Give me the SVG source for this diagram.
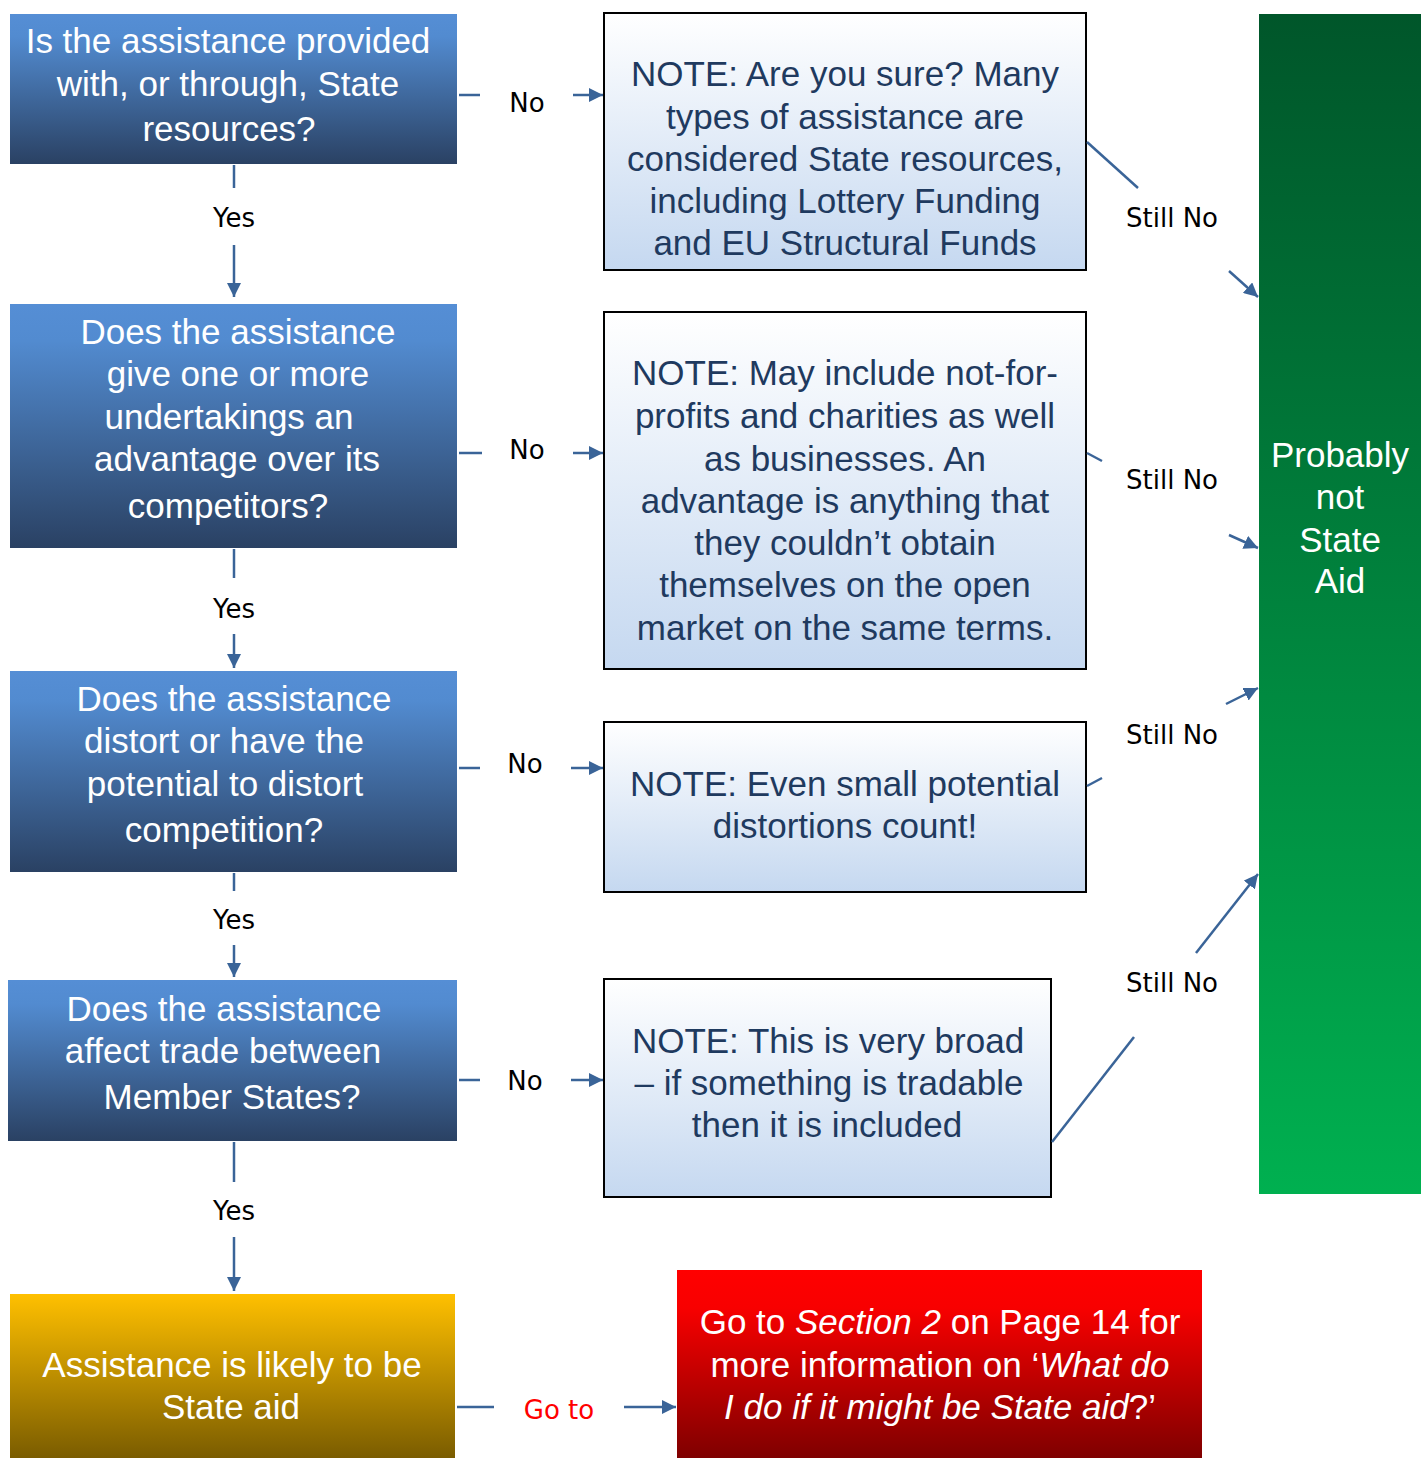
<svg xmlns="http://www.w3.org/2000/svg" width="1421" height="1458" viewBox="0 0 1421 1458">
<defs>
<linearGradient id="gBlue" x1="0" y1="0" x2="0" y2="1">
<stop offset="0" stop-color="#558ed5"/><stop offset="0.15" stop-color="#528bd0"/><stop offset="1" stop-color="#2a4163"/>
</linearGradient>
<linearGradient id="gNote" x1="0" y1="0" x2="0" y2="1">
<stop offset="0" stop-color="#ffffff"/><stop offset="1" stop-color="#c5d8f0"/>
</linearGradient>
<linearGradient id="gGreen" x1="0" y1="0" x2="0" y2="1">
<stop offset="0" stop-color="#00562a"/><stop offset="1" stop-color="#00b050"/>
</linearGradient>
<linearGradient id="gYellow" x1="0" y1="0" x2="0" y2="1">
<stop offset="0" stop-color="#ffc000"/><stop offset="1" stop-color="#7a5c00"/>
</linearGradient>
<linearGradient id="gRed" x1="0" y1="0" x2="0" y2="1">
<stop offset="0" stop-color="#ff0000"/><stop offset="0.2" stop-color="#f80000"/><stop offset="1" stop-color="#7f0000"/>
</linearGradient>
<marker id="arr" viewBox="0 0 14 14" refX="14" refY="7" markerWidth="14" markerHeight="14" markerUnits="userSpaceOnUse" orient="auto">
<path d="M0,0 L14,7 L0,14 z" fill="#3a6498"/>
</marker>
<style>
.q{font-family:"Liberation Sans",Arial,sans-serif;font-size:35px;fill:#ffffff;text-anchor:middle}
.n{font-family:"Liberation Sans",Arial,sans-serif;font-size:35px;fill:#1f3a5f;text-anchor:middle}
.lbl{font-family:"DejaVu Sans",Verdana,sans-serif;font-size:26px;fill:#000000;text-anchor:middle}
.red{fill:#ff0000}
.note{fill:url(#gNote);stroke:#000000;stroke-width:2}
.c{stroke:#3a6498;stroke-width:2.5;fill:none}
.a{stroke:#3a6498;stroke-width:2.5;fill:none;marker-end:url(#arr)}
</style>
</defs>
<rect width="1421" height="1458" fill="#ffffff"/>

<g id="q1">
<rect x="10" y="14" width="447" height="150" fill="url(#gBlue)"/>
<text class="q"><tspan x="228" y="53">Is the assistance provided</tspan><tspan x="228" y="96">with, or through, State</tspan><tspan x="229" y="141">resources?</tspan></text>
</g>
<g id="q2">
<rect x="10" y="304" width="447" height="244" fill="url(#gBlue)"/>
<text class="q"><tspan x="238" y="344">Does the assistance</tspan><tspan x="238" y="386">give one or more</tspan><tspan x="229" y="429">undertakings an</tspan><tspan x="237" y="471">advantage over its</tspan><tspan x="228" y="518">competitors?</tspan></text>
</g>
<g id="q3">
<rect x="10" y="671" width="447" height="201" fill="url(#gBlue)"/>
<text class="q"><tspan x="234" y="711">Does the assistance</tspan><tspan x="224" y="753">distort or have the</tspan><tspan x="225" y="796">potential to distort</tspan><tspan x="224" y="842">competition?</tspan></text>
</g>
<g id="q4">
<rect x="8" y="980" width="449" height="161" fill="url(#gBlue)"/>
<text class="q"><tspan x="224" y="1021">Does the assistance</tspan><tspan x="223" y="1063">affect trade between</tspan><tspan x="232" y="1109">Member States?</tspan></text>
</g>
<g id="likely">
<rect x="10" y="1294" width="445" height="164" fill="url(#gYellow)"/>
<text class="q"><tspan x="232" y="1377">Assistance is likely to be</tspan><tspan x="231" y="1419">State aid</tspan></text>
</g>
<g id="goto">
<rect x="677" y="1270" width="525" height="188" fill="url(#gRed)"/>
<text class="q"><tspan x="940" y="1334">Go to <tspan font-style="italic">Section 2</tspan> on Page 14 for</tspan><tspan x="940" y="1377">more information on ‘<tspan font-style="italic">What do</tspan></tspan><tspan x="940" y="1419"><tspan font-style="italic">I do if it might be State aid</tspan>?’</tspan></text>
</g>
<g id="probably">
<rect x="1259" y="14" width="162" height="1180" fill="url(#gGreen)"/>
<text class="q"><tspan x="1340" y="467">Probably</tspan><tspan x="1340" y="509">not</tspan><tspan x="1340" y="552">State</tspan><tspan x="1340" y="593">Aid</tspan></text>
</g>

<g id="n1">
<rect class="note" x="604" y="13" width="482" height="257"/>
<text class="n"><tspan x="845" y="86">NOTE: Are you sure? Many</tspan><tspan x="845" y="129">types of assistance are</tspan><tspan x="845" y="171">considered State resources,</tspan><tspan x="845" y="213">including Lottery Funding</tspan><tspan x="845" y="255">and EU Structural Funds</tspan></text>
</g>
<g id="n2">
<rect class="note" x="604" y="312" width="482" height="357"/>
<text class="n"><tspan x="845" y="385">NOTE: May include not-for-</tspan><tspan x="845" y="428">profits and charities as well</tspan><tspan x="845" y="471">as businesses. An</tspan><tspan x="845" y="513">advantage is anything that</tspan><tspan x="845" y="555">they couldn’t obtain</tspan><tspan x="845" y="597">themselves on the open</tspan><tspan x="845" y="640">market on the same terms.</tspan></text>
</g>
<g id="n3">
<rect class="note" x="604" y="722" width="482" height="170"/>
<text class="n"><tspan x="845" y="796">NOTE: Even small potential</tspan><tspan x="845" y="838">distortions count!</tspan></text>
</g>
<g id="n4">
<rect class="note" x="604" y="979" width="447" height="218"/>
<text class="n"><tspan x="828" y="1053">NOTE: This is very broad</tspan><tspan x="829" y="1095">–  if something is tradable</tspan><tspan x="827" y="1137">then it is included</tspan></text>
</g>

<g id="connectors">
<line class="c" x1="459" y1="95" x2="480" y2="95"/>
<line class="a" x1="573" y1="95" x2="603" y2="95"/>
<line class="c" x1="234" y1="165" x2="234" y2="188"/>
<line class="a" x1="234" y1="245" x2="234" y2="297"/>
<line class="c" x1="459" y1="453" x2="482" y2="453"/>
<line class="a" x1="573" y1="453" x2="603" y2="453"/>
<line class="c" x1="234" y1="549" x2="234" y2="578"/>
<line class="a" x1="234" y1="634" x2="234" y2="668"/>
<line class="c" x1="459" y1="768" x2="480" y2="768"/>
<line class="a" x1="571" y1="768" x2="603" y2="768"/>
<line class="c" x1="234" y1="873" x2="234" y2="891"/>
<line class="a" x1="234" y1="945" x2="234" y2="977"/>
<line class="c" x1="459" y1="1080" x2="480" y2="1080"/>
<line class="a" x1="571" y1="1080" x2="603" y2="1080"/>
<line class="c" x1="234" y1="1142" x2="234" y2="1182"/>
<line class="a" x1="234" y1="1237" x2="234" y2="1291"/>
<line class="c" x1="457" y1="1407" x2="494" y2="1407"/>
<line class="a" x1="624" y1="1407" x2="676" y2="1407"/>
<line class="c" x1="1087" y1="142" x2="1138" y2="188"/>
<line class="a" x1="1229" y1="271" x2="1258" y2="297"/>
<line class="c" x1="1087" y1="453" x2="1102" y2="461"/>
<line class="a" x1="1229" y1="535" x2="1258" y2="548"/>
<line class="c" x1="1087" y1="786" x2="1102" y2="778"/>
<line class="a" x1="1226" y1="704" x2="1258" y2="688"/>
<line class="c" x1="1052" y1="1142" x2="1134" y2="1037"/>
<line class="a" x1="1196" y1="953" x2="1258" y2="874"/>
<text class="lbl" x="527" y="112">No</text>
<text class="lbl" x="234" y="227">Yes</text>
<text class="lbl" x="527" y="459">No</text>
<text class="lbl" x="234" y="618">Yes</text>
<text class="lbl" x="525" y="773">No</text>
<text class="lbl" x="234" y="929">Yes</text>
<text class="lbl" x="525" y="1090">No</text>
<text class="lbl" x="234" y="1220">Yes</text>
<text class="lbl red" x="559" y="1419">Go to</text>
<text class="lbl" x="1172" y="227">Still No</text>
<text class="lbl" x="1172" y="489">Still No</text>
<text class="lbl" x="1172" y="744">Still No</text>
<text class="lbl" x="1172" y="992">Still No</text>
</g>
</svg>
